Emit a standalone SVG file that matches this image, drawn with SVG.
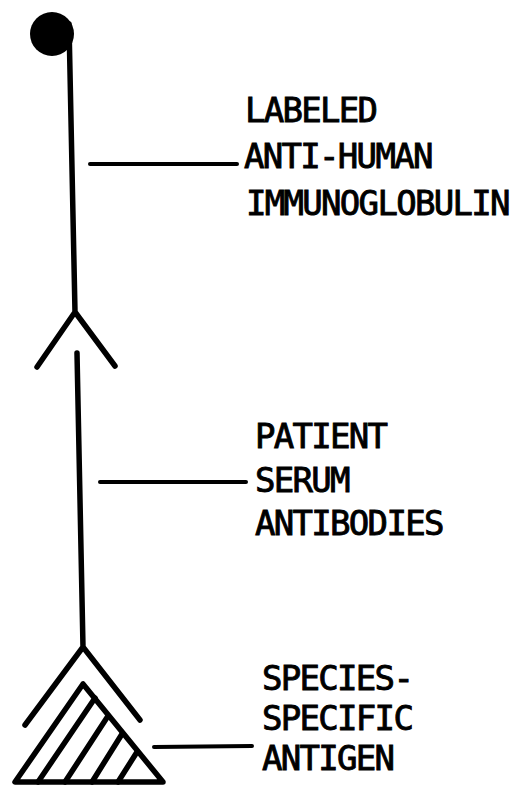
<svg xmlns="http://www.w3.org/2000/svg" width="518" height="789" viewBox="0 0 518 789">
<style>
.ln{stroke:#000;stroke-width:5.5;fill:none;stroke-linecap:round;stroke-linejoin:round}
.ld{stroke:#000;stroke-width:4;fill:none;stroke-linecap:round}
.t{font-family:"DejaVu Sans Mono","Liberation Mono",monospace;font-size:34px;letter-spacing:-1.7px;fill:#000;stroke:#000;stroke-width:0.9}
</style>
<rect width="518" height="789" fill="#fff"/>
<g id="labeled-antibody">
<circle cx="52" cy="34" r="22" fill="#000"/>
<path class="ln" d="M69 24 L75 312 M75 312 L37 367 M75 312 L115 366"/>
</g>
<g id="patient-antibody">
<path class="ln" d="M77 353 L83 647 M83 647 L25 725 M83 647 L140 720"/>
</g>
<g id="antigen">
<path class="ln" d="M83 684 L15 782 L163 782 Z"/>
<path class="ln" d="M38 782 L95 698 M65 782 L108 716 M92 782 L122 734 M118 782 L137 752"/>
</g>
<g id="connectors">
<line class="ld" x1="90" y1="164" x2="237" y2="164"/>
<line class="ld" x1="100" y1="482" x2="246" y2="482"/>
<line class="ld" x1="154" y1="747" x2="252" y2="746"/>
</g>
<g id="label-1">
<text class="t" x="245" y="122">LABELED</text>
<text class="t" x="244" y="168">ANTI-HUMAN</text>
<text class="t" x="246" y="215">IMMUNOGLOBULIN</text>
</g>
<g id="label-2">
<text class="t" x="255" y="448">PATIENT</text>
<text class="t" x="255" y="492">SERUM</text>
<text class="t" x="255" y="535">ANTIBODIES</text>
</g>
<g id="label-3">
<text class="t" x="262" y="690">SPECIES-</text>
<text class="t" x="262" y="730">SPECIFIC</text>
<text class="t" x="262" y="770">ANTIGEN</text>
</g>
</svg>
